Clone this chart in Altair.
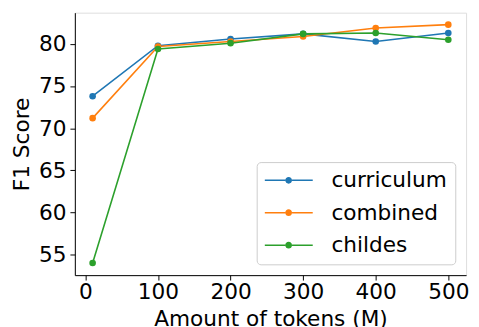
import altair as alt
import pandas as pd

tokens = [10, 100, 200, 300, 400, 500]
curriculum = [73.8, 79.8, 80.6, 81.2, 80.3, 81.3]
combined = [71.2, 79.7, 80.3, 80.9, 81.9, 82.3]
childes = [54.0, 79.4, 80.1, 81.2, 81.3, 80.5]
series_names = ["curriculum", "combined", "childes"]
colors = ["#1f77b4", "#ff7f0e", "#2ca02c"]
x_ticks = [0, 100, 200, 300, 400, 500]
y_ticks = [55, 60, 65, 70, 75, 80]

rows = []
for name, vals in zip(series_names, [curriculum, combined, childes]):
    for t, v in zip(tokens, vals):
        rows.append({"tokens": t, "f1": v, "series": name})
df = pd.DataFrame(rows)

FONT = "DejaVu Sans"
FS = 22
sym = ("M-1,-0.032 L-0.14,-0.032 L-0.14,0.032 L-1,0.032 Z "
       "M0.14,-0.032 L1,-0.032 L1,0.032 L0.14,0.032 Z "
       "M0.14,0 A0.14,0.14 0 1,1 -0.14,0 A0.14,0.14 0 1,1 0.14,0 Z")

legend = alt.Legend(
    title=None, orient="bottom-right", offset=11, padding=8,
    fillColor="white", strokeColor="#cccccc", cornerRadius=4,
    symbolType=sym, symbolSize=2401, symbolStrokeWidth=0,
    labelFont=FONT, labelFontSize=FS, labelColor="black",
    labelOffset=19, rowPadding=10, clipHeight=21, symbolOpacity=1,
)

xs = alt.X("tokens:Q", scale=alt.Scale(domain=[-14.5, 524.5], nice=False, zero=False),
           axis=alt.Axis(values=x_ticks, title="Amount of tokens (M)", grid=False,
                         labelFont=FONT, labelFontSize=FS, titleFont=FONT, titleFontSize=FS,
                         titleFontWeight="normal", labelColor="black", titleColor="black",
                         tickColor="black", domainColor="black", tickSize=5, labelPadding=2,
                         titlePadding=6, labelFlush=False))
ys = alt.Y("f1:Q", scale=alt.Scale(domain=[52.56, 83.72], nice=False, zero=False),
           axis=alt.Axis(values=y_ticks, title="F1 Score", grid=False,
                         labelFont=FONT, labelFontSize=FS, titleFont=FONT, titleFontSize=FS,
                         titleFontWeight="normal", labelColor="black", titleColor="black",
                         tickColor="black", domainColor="black", tickSize=5, labelPadding=4,
                         titlePadding=5, labelFlush=False))
color = alt.Color("series:N", sort=series_names,
                  scale=alt.Scale(domain=series_names, range=colors), legend=legend)

base = alt.Chart(df)
lines = base.mark_line(strokeWidth=1.6).encode(x=xs, y=ys, color=color, detail="series:N")
points = base.mark_point(filled=True, size=45, opacity=1, strokeWidth=0).encode(x=xs, y=ys, color=color)

chart = alt.layer(lines, points).properties(
    width=398, height=267,
    autosize=alt.AutoSizeParams(type="none"),
    padding={"left": 68, "top": 2, "right": 5, "bottom": 50},
).configure_view(stroke="black", strokeWidth=1).configure(background="white")

chart.save("out.html", embed_options={"renderer": "svg", "actions": False})
